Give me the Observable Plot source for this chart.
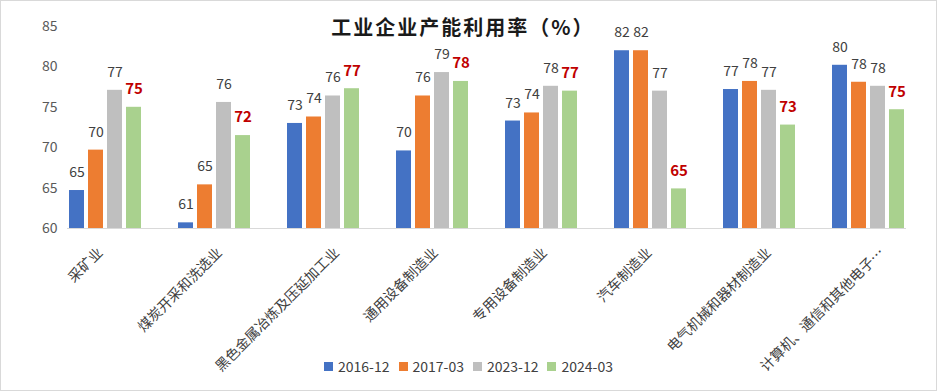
<!DOCTYPE html>
<html>
<head>
<meta charset="utf-8">
<script src="https://cdn.jsdelivr.net/npm/d3@7"></script>
<script src="https://cdn.jsdelivr.net/npm/@observablehq/plot@0.6"></script>
<style>
  html, body { margin: 0; padding: 0; background: #fff; }
  #chart { position: relative; width: 937px; height: 391px; font-family: "Noto Sans CJK SC", sans-serif; overflow: hidden; }
  #border { position: absolute; left: 0; top: 0; width: 935px; height: 389px; border: 1px solid #d9d9d9; pointer-events: none; }
  #title { position: absolute; top: 12px; left: 0; width: 926px; text-align: center; font-size: 20px; font-weight: bold; color: #1a1a1a; letter-spacing: 2px; }
  #legend { position: absolute; top: 356px; left: 0; width: 937px; display: flex; justify-content: center; gap: 9px; font-size: 14px; color: #404040; }
  #legend .item { display: flex; align-items: center; gap: 5px; }
  #legend .sw { width: 9px; height: 9px; display: inline-block; }
  #chart svg { position: absolute; left: 0; top: 0; }
</style>
</head>
<body>
<div id="chart">
  <div id="border"></div>
</div>
<script>
const categories = ["采矿业", "煤炭开采和洗选业", "黑色金属冶炼及压延加工业", "通用设备制造业", "专用设备制造业", "汽车制造业", "电气机械和器材制造业", "计算机、通信和其他电子…"];
const series = ["2016-12", "2017-03", "2023-12", "2024-03"];
const v2016_12 = [64.7, 60.7, 73.0, 69.6, 73.3, 82.0, 77.2, 80.2];
const v2017_03 = [69.7, 65.4, 73.8, 76.4, 74.3, 82.0, 78.2, 78.1];
const v2023_12 = [77.1, 75.6, 76.4, 79.3, 77.6, 77.0, 77.1, 77.6];
const v2024_03 = [75.0, 71.5, 77.3, 78.2, 77.0, 64.9, 72.8, 74.7];
const yTicks = [60, 65, 70, 75, 80, 85];
const colors = ["#4472C4", "#ED7D31", "#BFBFBF", "#A9D18E"];
const title = "工业企业产能利用率（%）";

const seriesValues = [v2016_12, v2017_03, v2023_12, v2024_03];
const data = [];
categories.forEach((c, i) => series.forEach((s, j) => data.push({category: c, series: s, value: seriesValues[j][i]})));

const font = "\"Noto Sans CJK SC\", sans-serif";
// category labels: one text mark per facet so each rotated label can be nudged by its length (as the spreadsheet does)
const fxLabels = categories.map(c => Plot.text([c], {
  fx: d => d, text: d => d, frameAnchor: "bottom", rotate: -45, textAnchor: "end", lineAnchor: "top",
  dx: 2.05 * Array.from(c).length - 14.6, dy: 18, fontSize: 14, fill: "#404040"
}));

const chart = Plot.plot({
  width: 937,
  height: 391,
  marginLeft: 49,
  marginRight: 14,
  marginTop: 26,
  marginBottom: 163,
  style: {fontFamily: font, background: "transparent", overflow: "visible"},
  fx: {domain: categories, paddingInner: 0.3135, paddingOuter: 0.157, label: null, axis: null},
  x: {domain: series, paddingInner: 0.22, paddingOuter: 0, axis: null},
  y: {domain: [60, 85], label: null},
  color: {domain: series, range: colors},
  marks: [
    Plot.barY(data, {fx: "category", x: "series", y1: 60, y2: "value", fill: "series"}),
    Plot.frame({anchor: "bottom", stroke: "#d9d9d9", strokeWidth: 1, facet: "super"}),
    Plot.text(data.filter(d => d.series !== "2024-03"), {fx: "category", x: "series", y: "value", text: d => String(Math.round(d.value)), dy: -18, fontSize: 14, fill: "#404040"}),
    Plot.text(data.filter(d => d.series === "2024-03"), {fx: "category", x: "series", y: "value", text: d => String(Math.round(d.value)), dy: -18, fontSize: 15, fontWeight: "bold", fill: "#C00000"}),
    Plot.axisY(yTicks, {tickSize: 0, tickPadding: 10, fontSize: 14, color: "#595959", label: null}),
    ...fxLabels
  ]
});
const root = document.getElementById("chart");
root.appendChild(chart);

const t = document.createElement("div");
t.id = "title";
t.textContent = title;
root.appendChild(t);

const lg = document.createElement("div");
lg.id = "legend";
series.forEach((s, j) => {
  const it = document.createElement("div");
  it.className = "item";
  const sw = document.createElement("span");
  sw.className = "sw";
  sw.style.background = colors[j];
  const tx = document.createElement("span");
  tx.textContent = s;
  it.appendChild(sw);
  it.appendChild(tx);
  lg.appendChild(it);
});
root.appendChild(lg);
</script>
</body>
</html>
